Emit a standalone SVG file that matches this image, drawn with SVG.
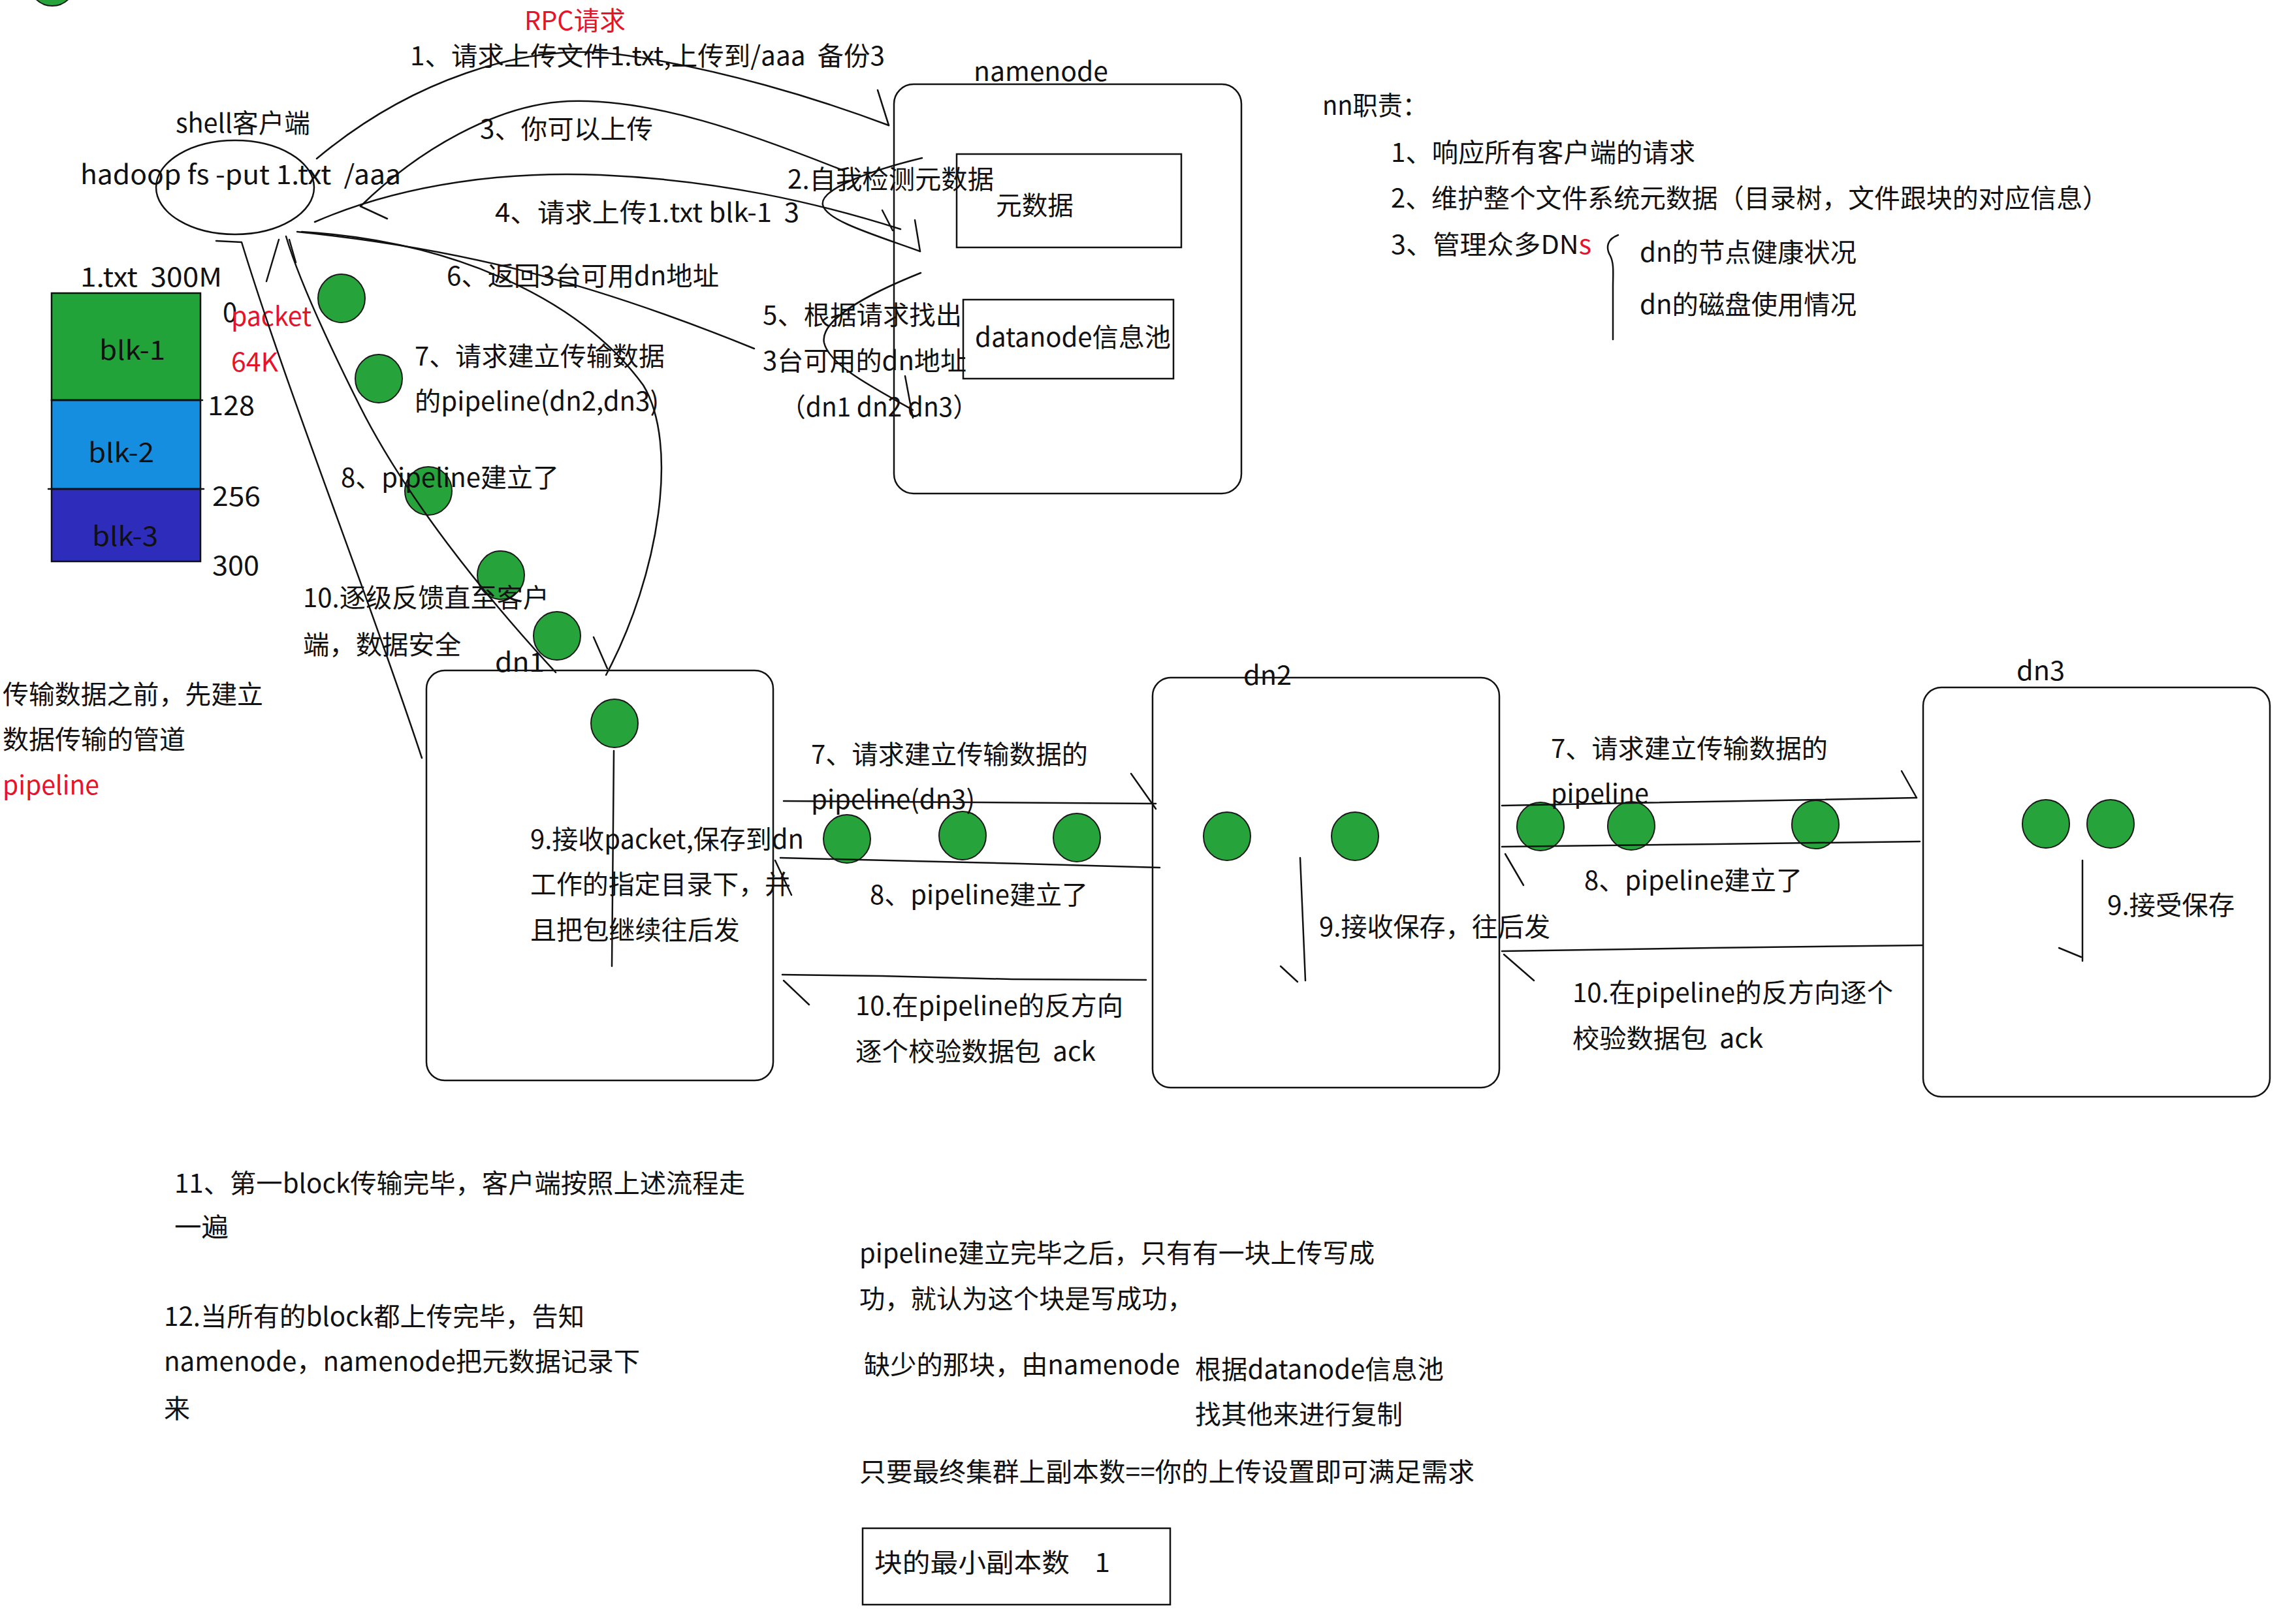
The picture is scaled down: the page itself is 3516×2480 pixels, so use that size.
<svg xmlns="http://www.w3.org/2000/svg" width="3516" height="2480" viewBox="0 0 3516 2480">
<style>
.t{font-family:"Noto Sans CJK SC","Liberation Sans",sans-serif;font-size:40px;fill:#111;white-space:pre}
.r{fill:#e8132b}
.ln{fill:none;stroke:#111;stroke-width:2.5;stroke-linecap:round;stroke-linejoin:round}
.bx{fill:#fff;stroke:#111;stroke-width:2.5}
.g{fill:#26a33b;stroke:#1a1a1a;stroke-width:2}
</style>
<rect x="0" y="0" width="3516" height="2480" fill="#fff"/>

<g id="corner-dot"><ellipse class="g" cx="80" cy="-28" rx="36" ry="37"/></g>

<g id="namenode">
<rect class="bx" x="1369" y="129" width="532" height="627" rx="30"/>
<text class="t" x="1491" y="124" textLength="206" lengthAdjust="spacingAndGlyphs">namenode</text>
<rect class="bx" x="1465" y="236" width="344" height="143"/>
<text class="t" x="1525" y="329" textLength="119" lengthAdjust="spacingAndGlyphs">元数据</text>
<rect class="bx" x="1475" y="459" width="322" height="121"/>
<text class="t" x="1493" y="531" textLength="300" lengthAdjust="spacingAndGlyphs">datanode信息池</text>
</g>

<g id="dn1">
<rect class="bx" x="653" y="1027" width="531" height="628" rx="28"/>
<text class="t" x="758" y="1029" textLength="76" lengthAdjust="spacingAndGlyphs">dn1</text>
</g>
<g id="dn2">
<rect class="bx" x="1765" y="1038" width="531" height="628" rx="28"/>
<text class="t" x="1904" y="1049" textLength="74" lengthAdjust="spacingAndGlyphs">dn2</text>
</g>
<g id="dn3">
<rect class="bx" x="2945" y="1053" width="531" height="627" rx="28"/>
<text class="t" x="3088" y="1042" textLength="74" lengthAdjust="spacingAndGlyphs">dn3</text>
</g>

<g id="client">
<ellipse fill="none" stroke="#111" stroke-width="2.5" cx="360" cy="287" rx="121" ry="72"/>
<text class="t" x="269" y="203" textLength="206" lengthAdjust="spacingAndGlyphs">shell客户端</text>
<text class="t" x="123" y="282" textLength="491" lengthAdjust="spacingAndGlyphs">hadoop fs -put 1.txt  /aaa</text>
</g>

<g id="file">
<text class="t" x="123" y="439" textLength="217" lengthAdjust="spacingAndGlyphs">1.txt  300M</text>
<rect x="79" y="449" width="228" height="164" fill="#22a33a" stroke="#111" stroke-width="2.5"/>
<rect x="79" y="613" width="228" height="136" fill="#168ee0" stroke="#111" stroke-width="2.5"/>
<rect x="79" y="749" width="228" height="111" fill="#2e2dbb" stroke="#111" stroke-width="2.5"/>
<line class="ln" x1="79" y1="613" x2="310" y2="613"/>
<line class="ln" x1="74" y1="749" x2="312" y2="749"/>
<text class="t" x="152" y="551" textLength="101" lengthAdjust="spacingAndGlyphs">blk-1</text>
<text class="t" x="135" y="708" textLength="101" lengthAdjust="spacingAndGlyphs">blk-2</text>
<text class="t" x="141" y="836" textLength="101" lengthAdjust="spacingAndGlyphs">blk-3</text>
<text class="t" x="341" y="493">0</text>
<text class="t" x="318" y="636" textLength="72" lengthAdjust="spacingAndGlyphs">128</text>
<text class="t" x="325" y="775" textLength="74" lengthAdjust="spacingAndGlyphs">256</text>
<text class="t" x="325" y="881" textLength="72" lengthAdjust="spacingAndGlyphs">300</text>
<text class="t r" x="354" y="499" textLength="123" lengthAdjust="spacingAndGlyphs">packet</text>
<text class="t r" x="354" y="569" textLength="72" lengthAdjust="spacingAndGlyphs">64K</text>
</g>

<g id="packets">
<ellipse class="g" cx="523" cy="457" rx="36" ry="37"/>
<ellipse class="g" cx="580" cy="580" rx="36" ry="37"/>
<ellipse class="g" cx="656" cy="752" rx="36" ry="37"/>
<ellipse class="g" cx="767" cy="881" rx="36" ry="37"/>
<ellipse class="g" cx="853" cy="974" rx="36" ry="37"/>
<ellipse class="g" cx="941" cy="1108" rx="36" ry="37"/>
<ellipse class="g" cx="1297" cy="1285" rx="36" ry="37"/>
<ellipse class="g" cx="1474" cy="1280" rx="36" ry="37"/>
<ellipse class="g" cx="1649" cy="1283" rx="36" ry="37"/>
<ellipse class="g" cx="1879" cy="1281" rx="36" ry="37"/>
<ellipse class="g" cx="2075" cy="1281" rx="36" ry="37"/>
<ellipse class="g" cx="2359" cy="1266" rx="36" ry="37"/>
<ellipse class="g" cx="2498" cy="1265" rx="36" ry="37"/>
<ellipse class="g" cx="2780" cy="1263" rx="36" ry="37"/>
<ellipse class="g" cx="3133" cy="1262" rx="36" ry="37"/>
<ellipse class="g" cx="3232" cy="1262" rx="36" ry="37"/>
</g>

<g id="connectors">
<!-- 1 request upload -->
<path class="ln" d="M485,243 C620,130 800,60 960,85 C1100,105 1250,150 1361,192"/>
<path class="ln" d="M1344,138 L1361,192"/>
<!-- 3 you can upload -->
<path class="ln" d="M1291,261 C1150,205 1000,150 870,155 C760,160 640,230 552,316"/>
<path class="ln" d="M552,316 L593,335"/>
<!-- 4 request blk-1 -->
<path class="ln" d="M482,340 C620,280 780,262 920,268 C1100,276 1250,310 1379,351"/>
<path class="ln" d="M1351,322 L1367,353"/>
<!-- 2 self check loop -->
<path class="ln" d="M1412,242 C1330,262 1255,290 1260,314 C1265,338 1340,360 1409,385"/>
<path class="ln" d="M1401,337 L1409,385"/>
<!-- 5 find dn loop -->
<path class="ln" d="M1410,418 C1330,450 1255,490 1262,525 C1270,560 1340,595 1398,628"/>
<path class="ln" d="M1386,576 L1398,640"/>
<!-- 6 return addresses -->
<path class="ln" d="M1155,534 C900,430 700,380 455,355"/>
<!-- 7 request pipeline to dn1 -->
<path class="ln" d="M462,355 C700,370 890,460 985,590 C1040,680 1010,880 928,1034"/>
<path class="ln" d="M909,976 L930,1024"/>
<!-- 8 pipeline established back to client -->
<path class="ln" d="M331,369 L370,371 C440,600 560,900 646,1161"/>
<!-- 10 feedback to client -->
<path class="ln" d="M851,1030 C740,910 620,760 550,620 C490,500 455,420 438,362"/>
<path class="ln" d="M427,367 L408,431"/>
<path class="ln" d="M443,367 L453,402"/>
<!-- dn1 internal -->
<path class="ln" d="M940,1150 L937,1480"/>
<!-- dn1 -> dn2 -->
<path class="ln" d="M1200,1227 L1770,1231"/>
<path class="ln" d="M1732,1185 L1770,1239"/>
<path class="ln" d="M1195,1314 L1399,1319 L1564,1323 L1776,1329"/>
<path class="ln" d="M1187,1318 L1212,1371"/>
<path class="ln" d="M1198,1493 L1350,1495 L1550,1500 L1755,1501"/>
<path class="ln" d="M1200,1502 L1239,1539"/>
<!-- dn2 internal -->
<path class="ln" d="M1991,1314 L1999,1502"/>
<path class="ln" d="M1961,1480 L1987,1504"/>
<!-- dn2 -> dn3 -->
<path class="ln" d="M2300,1234 L2500,1230 L2783,1225 L2935,1222"/>
<path class="ln" d="M2912,1181 L2935,1222"/>
<path class="ln" d="M2300,1297 L2629,1293 L2940,1289"/>
<path class="ln" d="M2305,1308 L2333,1356"/>
<path class="ln" d="M2300,1457 L2620,1452 L2944,1448"/>
<path class="ln" d="M2303,1462 L2349,1502"/>
<!-- dn3 internal -->
<path class="ln" d="M3189,1318 L3189,1472"/>
<path class="ln" d="M3153,1452 L3187,1466"/>
<!-- bracket -->
<path class="ln" d="M2478,360 C2462,366 2458,378 2466,392 C2472,404 2470,420 2470,440 L2470,520"/>
</g>

<g id="labels">
<text class="t r" x="803" y="46" textLength="155" lengthAdjust="spacingAndGlyphs">RPC请求</text>
<text class="t" x="628" y="100" textLength="727" lengthAdjust="spacingAndGlyphs">1、请求上传文件1.txt,上传到/aaa  备份3</text>
<text class="t" x="735" y="212" textLength="265" lengthAdjust="spacingAndGlyphs">3、你可以上传</text>
<text class="t" x="1206" y="289" textLength="316" lengthAdjust="spacingAndGlyphs">2.自我检测元数据</text>
<text class="t" x="758" y="340" textLength="466" lengthAdjust="spacingAndGlyphs">4、请求上传1.txt blk-1  3</text>
<text class="t" x="684" y="437" textLength="417" lengthAdjust="spacingAndGlyphs">6、返回3台可用dn地址</text>
<text class="t" x="1168" y="497" textLength="305" lengthAdjust="spacingAndGlyphs">5、根据请求找出</text>
<text class="t" x="1168" y="567" textLength="312" lengthAdjust="spacingAndGlyphs">3台可用的dn地址</text>
<text class="t" x="1195" y="638" textLength="303" lengthAdjust="spacingAndGlyphs">（dn1 dn2 dn3）</text>
<text class="t" x="635" y="560" textLength="383" lengthAdjust="spacingAndGlyphs">7、请求建立传输数据</text>
<text class="t" x="635" y="629" textLength="374" lengthAdjust="spacingAndGlyphs">的pipeline(dn2,dn3)</text>
<text class="t" x="522" y="746" textLength="334" lengthAdjust="spacingAndGlyphs">8、pipeline建立了</text>
<text class="t" x="464" y="930" textLength="377" lengthAdjust="spacingAndGlyphs">10.逐级反馈直至客户</text>
<text class="t" x="464" y="1002" textLength="242" lengthAdjust="spacingAndGlyphs">端，数据安全</text>
<text class="t" x="4" y="1078" textLength="399" lengthAdjust="spacingAndGlyphs">传输数据之前，先建立</text>
<text class="t" x="4" y="1147" textLength="280" lengthAdjust="spacingAndGlyphs">数据传输的管道</text>
<text class="t r" x="4" y="1217" textLength="148" lengthAdjust="spacingAndGlyphs">pipeline</text>
<text class="t" x="1242" y="1170" textLength="424" lengthAdjust="spacingAndGlyphs">7、请求建立传输数据的</text>
<text class="t" x="1242" y="1239" textLength="251" lengthAdjust="spacingAndGlyphs">pipeline(dn3)</text>
<text class="t" x="2375" y="1161" textLength="424" lengthAdjust="spacingAndGlyphs">7、请求建立传输数据的</text>
<text class="t" x="2375" y="1230" textLength="150" lengthAdjust="spacingAndGlyphs">pipeline</text>
<text class="t" x="812" y="1300" textLength="419" lengthAdjust="spacingAndGlyphs">9.接收packet,保存到dn</text>
<text class="t" x="812" y="1369" textLength="399" lengthAdjust="spacingAndGlyphs">工作的指定目录下，并</text>
<text class="t" x="812" y="1439" textLength="321" lengthAdjust="spacingAndGlyphs">且把包继续往后发</text>
<text class="t" x="1332" y="1385" textLength="334" lengthAdjust="spacingAndGlyphs">8、pipeline建立了</text>
<text class="t" x="2426" y="1363" textLength="334" lengthAdjust="spacingAndGlyphs">8、pipeline建立了</text>
<text class="t" x="2020" y="1434" textLength="354" lengthAdjust="spacingAndGlyphs">9.接收保存，往后发</text>
<text class="t" x="3227" y="1401" textLength="195" lengthAdjust="spacingAndGlyphs">9.接受保存</text>
<text class="t" x="1310" y="1555" textLength="410" lengthAdjust="spacingAndGlyphs">10.在pipeline的反方向</text>
<text class="t" x="1310" y="1625" textLength="368" lengthAdjust="spacingAndGlyphs">逐个校验数据包  ack</text>
<text class="t" x="2408" y="1535" textLength="491" lengthAdjust="spacingAndGlyphs">10.在pipeline的反方向逐个</text>
<text class="t" x="2408" y="1605" textLength="292" lengthAdjust="spacingAndGlyphs">校验数据包  ack</text>
</g>

<g id="nn-duties">
<text class="t" x="2025" y="176" textLength="161" lengthAdjust="spacingAndGlyphs">nn职责：</text>
<text class="t" x="2130" y="248" textLength="466" lengthAdjust="spacingAndGlyphs">1、响应所有客户端的请求</text>
<text class="t" x="2130" y="318" textLength="1099" lengthAdjust="spacingAndGlyphs">2、维护整个文件系统元数据（目录树，文件跟块的对应信息）</text>
<text class="t" x="2130" y="389" textLength="307" lengthAdjust="spacingAndGlyphs">3、管理众多DN<tspan class="r">s</tspan></text>
<text class="t" x="2511" y="401" textLength="332" lengthAdjust="spacingAndGlyphs">dn的节点健康状况</text>
<text class="t" x="2511" y="481" textLength="332" lengthAdjust="spacingAndGlyphs">dn的磁盘使用情况</text>
</g>

<g id="notes">
<text class="t" x="267" y="1827" textLength="874" lengthAdjust="spacingAndGlyphs">11、第一block传输完毕，客户端按照上述流程走</text>
<text class="t" x="267" y="1894" textLength="83" lengthAdjust="spacingAndGlyphs">一遍</text>
<text class="t" x="251" y="2031" textLength="644" lengthAdjust="spacingAndGlyphs">12.当所有的block都上传完毕，告知</text>
<text class="t" x="251" y="2100" textLength="729" lengthAdjust="spacingAndGlyphs">namenode，namenode把元数据记录下</text>
<text class="t" x="251" y="2172">来</text>
<text class="t" x="1316" y="1934" textLength="789" lengthAdjust="spacingAndGlyphs">pipeline建立完毕之后，只有有一块上传写成</text>
<text class="t" x="1316" y="2004" textLength="511" lengthAdjust="spacingAndGlyphs">功，就认为这个块是写成功，</text>
<text class="t" x="1323" y="2105" textLength="484" lengthAdjust="spacingAndGlyphs">缺少的那块，由namenode</text>
<text class="t" x="1830" y="2112" textLength="381" lengthAdjust="spacingAndGlyphs">根据datanode信息池</text>
<text class="t" x="1830" y="2181" textLength="318" lengthAdjust="spacingAndGlyphs">找其他来进行复制</text>
<text class="t" x="1316" y="2269" textLength="942" lengthAdjust="spacingAndGlyphs">只要最终集群上副本数==你的上传设置即可满足需求</text>
</g>

<g id="min-replica">
<rect class="bx" x="1321" y="2341" width="471" height="117"/>
<text class="t" x="1339" y="2408" textLength="361" lengthAdjust="spacingAndGlyphs">块的最小副本数    1</text>
</g>
</svg>
